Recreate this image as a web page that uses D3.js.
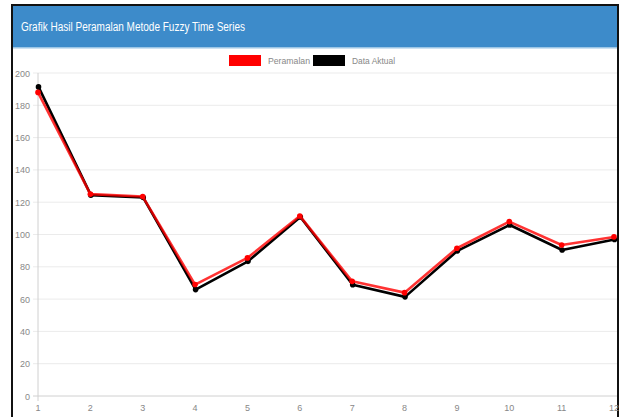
<!DOCTYPE html>
<html><head><meta charset="utf-8">
<script src="https://cdn.jsdelivr.net/npm/d3@7"></script>
<style>html,body{margin:0;padding:0;background:#fff;overflow:hidden}</style>
</head><body>
<svg id="c" width="621" height="417"></svg>
<script>
const categories = [1,2,3,4,5,6,7,8,9,10,11,12];
const peramalan = [188, 125, 123.5, 69, 85.5, 111.5, 71, 64, 91.5, 108, 93.5, 98.5];
const dataAktual = [192, 125, 123.5, 66.5, 84, 111.5, 69.5, 62, 90.5, 106.5, 91, 97.5];
const yTicks = [0,20,40,60,80,100,120,140,160,180,200];
const seriesNames = ["Peramalan", "Data Aktual"];
const seriesColors = ["#ff0000", "#000000"];
const title = "Grafik Hasil Peramalan Metode Fuzzy Time Series";

const svg = d3.select("#c");
const font = "'Liberation Sans', Arial, sans-serif";

// frame
svg.append("rect").attr("x",12).attr("y",5).attr("width",606).attr("height",420)
  .attr("fill","#fff").attr("stroke","#111").attr("stroke-width",2);
svg.append("rect").attr("x",13).attr("y",6).attr("width",604).attr("height",42).attr("fill","#3d8bca");
svg.append("rect").attr("x",13).attr("y",47).attr("width",604).attr("height",1.5).attr("fill","#9cc6e6");
svg.append("text").attr("x",21).attr("y",30.5).attr("fill","#fff")
  .attr("font-family",font).attr("font-size",12.5)
  .attr("textLength",224).attr("lengthAdjust","spacingAndGlyphs").text(title);

const x = d3.scaleLinear().domain([1,12]).range([38,614]);
const y = d3.scaleLinear().domain([0,200]).range([396,73]);

// gridlines
const g = svg.append("g");
g.selectAll("line.h").data(yTicks).join("line")
  .attr("x1",33).attr("x2",617).attr("y1",d=>y(d)).attr("y2",d=>y(d))
  .attr("stroke",d=>d===0?"#d0d0d0":"#ebebeb").attr("stroke-width",1);
g.append("line").attr("x1",x(1)).attr("x2",x(1)).attr("y1",y(200)).attr("y2",401)
  .attr("stroke","#d0d0d0").attr("stroke-width",1);

// y axis labels
g.selectAll("text.y").data(yTicks).join("text")
  .attr("x",30).attr("y",d=>y(d)+3.5).attr("text-anchor","end")
  .attr("font-family",font).attr("font-size",9).attr("fill","#888").text(d=>d);
// x labels
g.selectAll("text.x").data(categories).join("text")
  .attr("x",d=>x(d)).attr("y",411).attr("text-anchor","middle")
  .attr("font-family",font).attr("font-size",9).attr("fill","#888").text(d=>d);

// lines: black first, red on top
const line = d3.line().x((d,i)=>x(categories[i])).y(d=>y(d));
const series = [dataAktual, peramalan];
const cols = [seriesColors[1], seriesColors[0]];
series.forEach((s,k)=>{
  const gs = svg.append("g").attr("transform", k===0 ? "translate(0.5,1)" : null);
  gs.append("path").attr("d",line(s)).attr("fill","none").attr("stroke",cols[k])
    .attr("stroke-width",2.6).attr("stroke-linejoin","round").attr("opacity",k===1?0.8:1);
  gs.selectAll("circle").data(s).join("circle")
    .attr("cx",(d,i)=>x(categories[i])).attr("cy",d=>y(d)).attr("r",2.8).attr("fill",cols[k]);
});

// legend
const lg = svg.append("g");
const items = [{n:seriesNames[0],c:seriesColors[0],x:229,w:42},{n:seriesNames[1],c:seriesColors[1],x:313,w:43}];
items.forEach(it=>{
  lg.append("rect").attr("x",it.x).attr("y",55).attr("width",32).attr("height",11).attr("fill",it.c);
  lg.append("text").attr("x",it.x+39).attr("y",64).attr("font-family",font).attr("font-size",9.5)
    .attr("textLength",it.w).attr("lengthAdjust","spacingAndGlyphs")
    .attr("fill","#888").text(it.n);
});
</script>
</body></html>
